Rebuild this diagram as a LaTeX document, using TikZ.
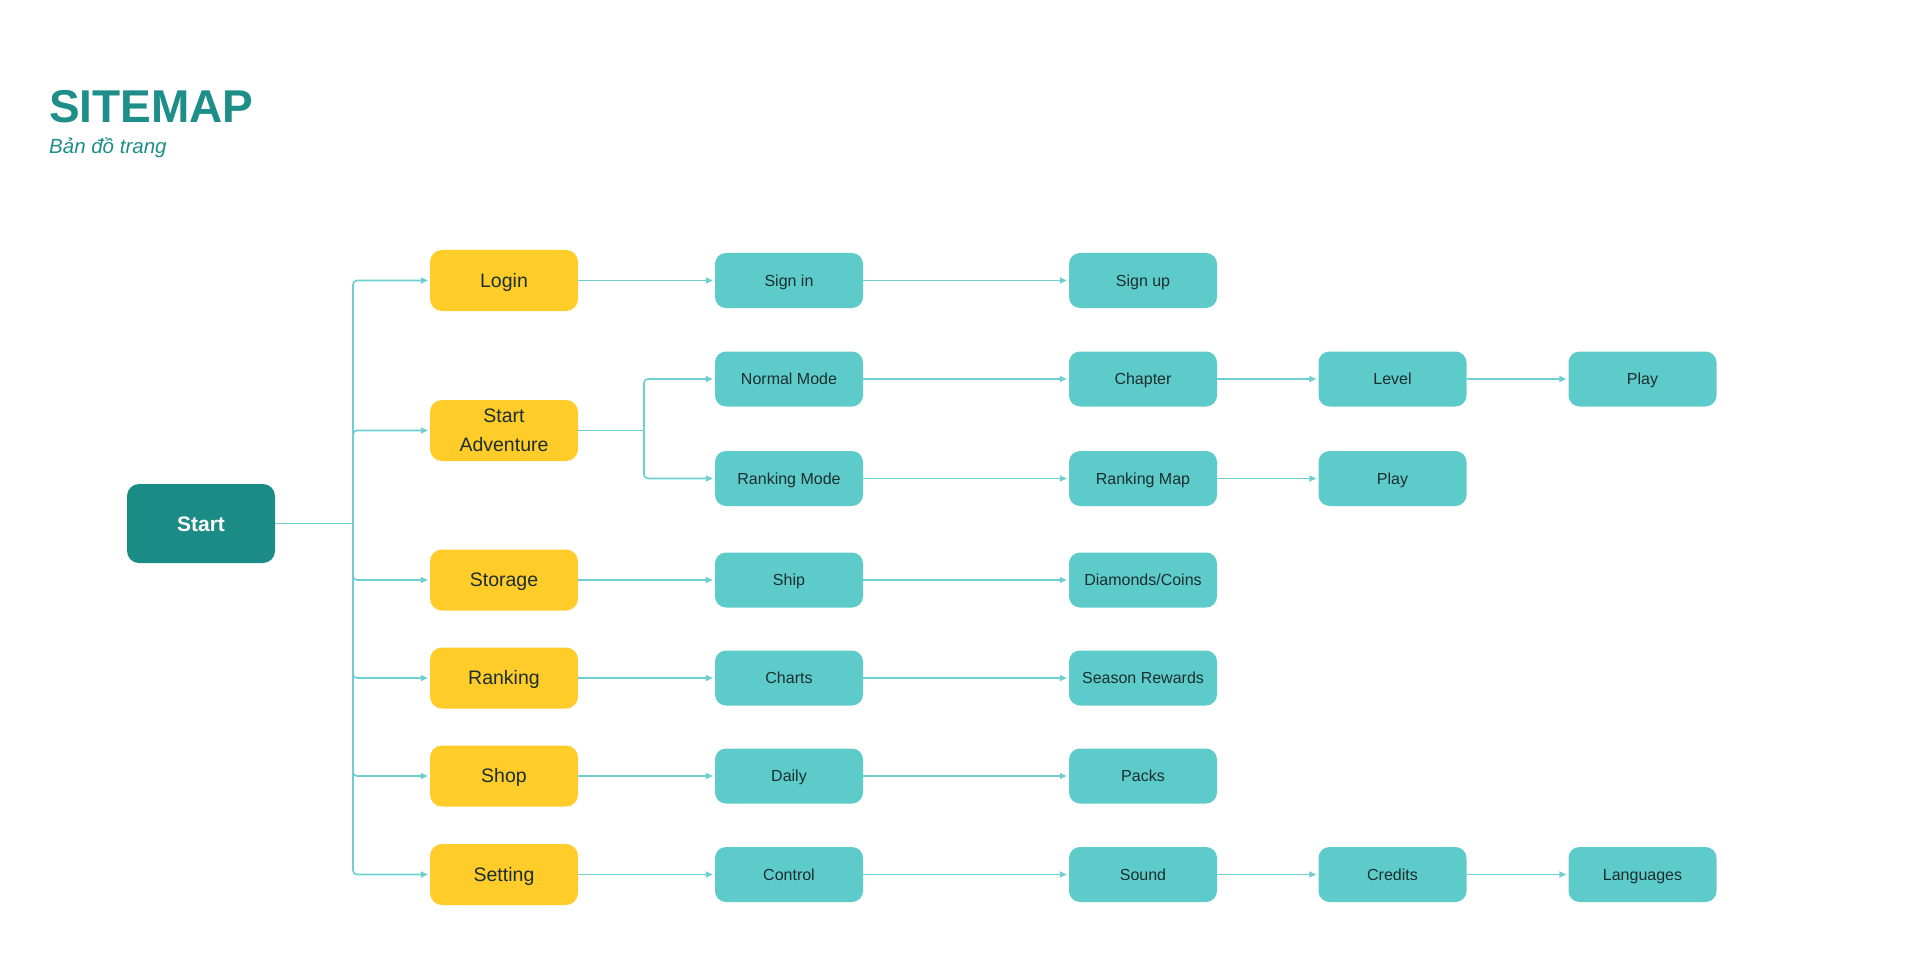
\documentclass[tikz,border=0pt]{standalone}
\usepackage{fontspec}
\setmainfont{Liberation Sans}
\usetikzlibrary{arrows.meta}
\definecolor{titlec}{HTML}{1E8E88}
\definecolor{startc}{HTML}{1B8B86}
\definecolor{yel}{HTML}{FFCC29}
\definecolor{tl}{HTML}{5ECBCB}
\definecolor{lnc}{HTML}{6DCFCF}
\definecolor{txt}{HTML}{1C2E2E}
\begin{document}
\begin{tikzpicture}[x=1pt,y=-1pt,
 box/.style={rounded corners=12pt, minimum width=148pt, inner sep=0pt, align=center},
 rootbox/.style={box, text height=17.04pt, text depth=2pt, fill=startc, minimum height=79pt, text=white, font=\fontsize{21}{25}\selectfont\bfseries},
 ybox/.style={box, fill=yel, minimum height=61pt, text=txt, font=\fontsize{19.5}{29}\selectfont},
 yone/.style={text height=15.96pt, text depth=2pt},
 tbox/.style={box, text height=13.46pt, text depth=2pt, fill=tl, minimum height=55pt, text=txt, font=\fontsize{16}{19}\selectfont, rounded corners=11pt},
 plain/.style={draw=lnc, line width=1.6pt},
 link/.style={plain, -{Triangle[length=7pt,width=6pt]}, shorten >=2pt, rounded corners=4pt}]
\fill[white] (0,0) rectangle (1920,960);
\useasboundingbox (0,0) rectangle (1920,960);

% title
\node[anchor=base west, inner sep=0pt, text=titlec, font=\fontsize{46}{50}\selectfont\bfseries] (title) at (49,123) {SITEMAP};
\node[anchor=base west, inner sep=0pt, text=titlec, font=\fontsize{20.5}{24}\selectfont\itshape] (subtitle) at (49,154) {Bản đồ trang};

% root
\node[rootbox] (start) at (201,523.5) {Start};

% level 1
\node[ybox, yone] (login) at (504,280.5) {Login};
\node[ybox] (adv) at (504,430.5) {Start\\Adventure};
\node[ybox, yone] (storage) at (504,580) {Storage};
\node[ybox, yone] (ranking) at (504,678) {Ranking};
\node[ybox, yone] (shop) at (504,776) {Shop};
\node[ybox, yone] (setting) at (504,874.5) {Setting};

% column 1
\node[tbox] (signin) at (789,280.5) {Sign in};
\node[tbox] (normal) at (789,379) {Normal Mode};
\node[tbox] (rmode) at (789,478.5) {Ranking Mode};
\node[tbox] (ship) at (789,580) {Ship};
\node[tbox] (charts) at (789,678) {Charts};
\node[tbox] (daily) at (789,776) {Daily};
\node[tbox] (control) at (789,874.5) {Control};

% column 2
\node[tbox] (signup) at (1143,280.5) {Sign up};
\node[tbox] (chapter) at (1143,379) {Chapter};
\node[tbox] (rmap) at (1143,478.5) {Ranking Map};
\node[tbox] (diamonds) at (1143,580) {Diamonds/Coins};
\node[tbox] (season) at (1143,678) {Season Rewards};
\node[tbox] (packs) at (1143,776) {Packs};
\node[tbox] (sound) at (1143,874.5) {Sound};

% column 3
\node[tbox] (level) at (1392.5,379) {Level};
\node[tbox] (play2) at (1392.5,478.5) {Play};
\node[tbox] (credits) at (1392.5,874.5) {Credits};

% column 4
\node[tbox] (play1) at (1642.5,379) {Play};
\node[tbox] (langs) at (1642.5,874.5) {Languages};

% trunk from Start
\coordinate (tr) at (353,523.5);
\draw[plain] (start.east) -- (tr);
\foreach \n in {login,adv,storage,ranking,shop,setting}
  \draw[link] (tr) |- (\n.west);

% branch from Start Adventure
\coordinate (br) at (644,430.5);
\draw[plain] (adv.east) -- (br);
\draw[link] (br) |- (normal.west);
\draw[link] (br) |- (rmode.west);

% straight links
\draw[link] (login.east) -- (signin.west);
\draw[link] (storage.east) -- (ship.west);
\draw[link] (ranking.east) -- (charts.west);
\draw[link] (shop.east) -- (daily.west);
\draw[link] (setting.east) -- (control.west);

\draw[link] (signin.east) -- (signup.west);
\draw[link] (normal.east) -- (chapter.west);
\draw[link] (rmode.east) -- (rmap.west);
\draw[link] (ship.east) -- (diamonds.west);
\draw[link] (charts.east) -- (season.west);
\draw[link] (daily.east) -- (packs.west);
\draw[link] (control.east) -- (sound.west);

\draw[link] (chapter.east) -- (level.west);
\draw[link] (rmap.east) -- (play2.west);
\draw[link] (sound.east) -- (credits.west);

\draw[link] (level.east) -- (play1.west);
\draw[link] (credits.east) -- (langs.west);
\end{tikzpicture}
\end{document}
